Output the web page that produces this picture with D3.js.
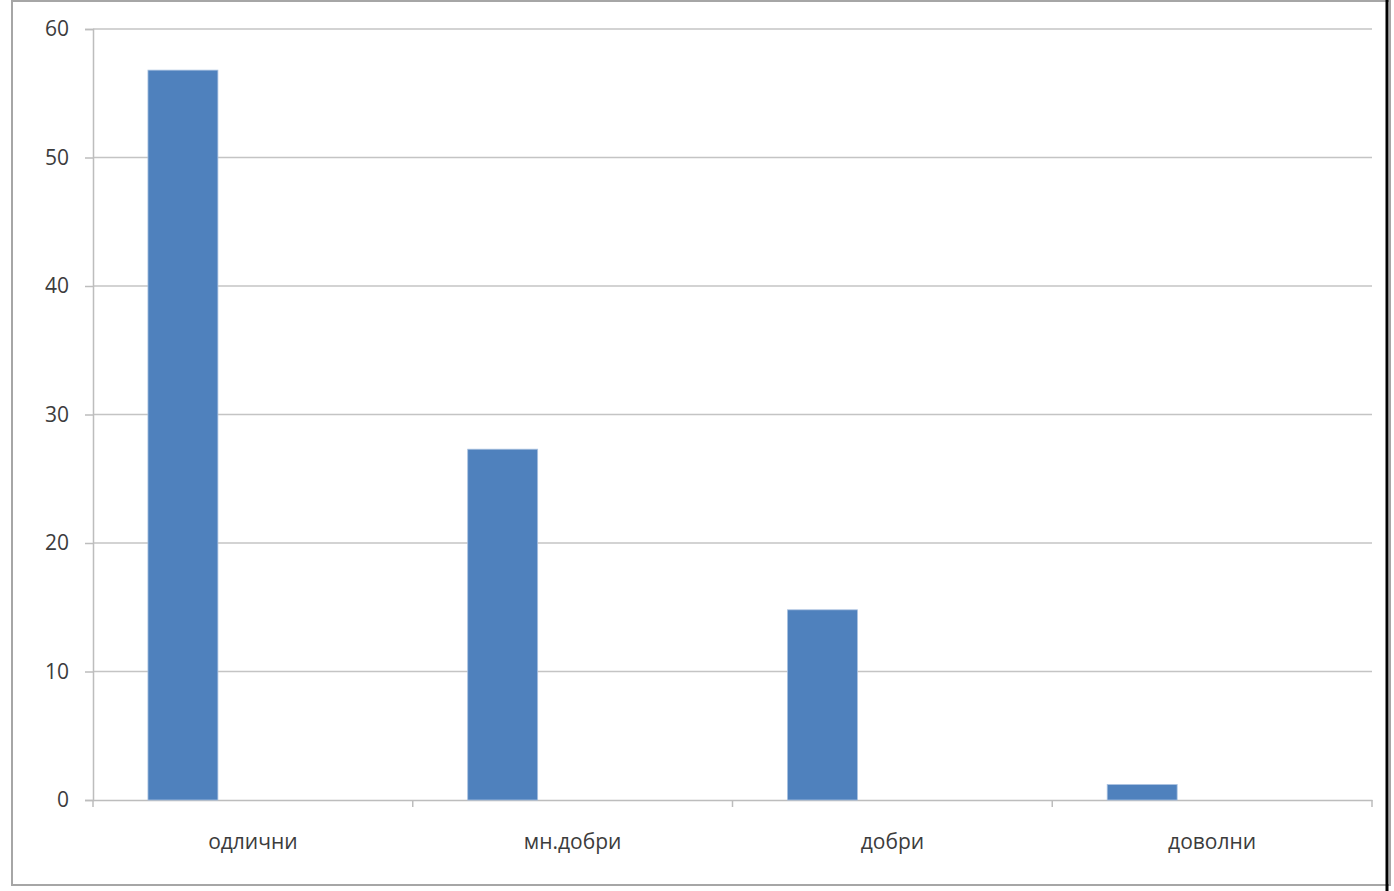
<!DOCTYPE html>
<html>
<head>
<meta charset="utf-8">
<script src="https://cdn.jsdelivr.net/npm/d3@7"></script>
<style>
  body { margin: 0; background: #fff; }
  svg text { font-family: "Open Sans", "Liberation Sans", sans-serif; fill: #3c3c3c; }
</style>
</head>
<body>
<svg id="chart" width="1394" height="891"></svg>
<script>
var categories = ["одлични", "мн.добри", "добри", "доволни"];
var values = [56.8, 27.3, 14.8, 1.2];
var yTicks = [0, 10, 20, 30, 40, 50, 60];

var svg = d3.select('#chart');
var plotLeft = 93, plotRight = 1372, plotTop = 29, plotBottom = 800;

// frame
svg.append('rect')
  .attr('x', 12).attr('y', 1)
  .attr('width', 1378).attr('height', 884)
  .attr('fill', 'none')
  .attr('stroke', '#a6a6a6')
  .attr('stroke-width', 2);
svg.append('line')
  .attr('x1', 1387).attr('x2', 1387)
  .attr('y1', 0).attr('y2', 891)
  .attr('stroke', '#000')
  .attr('stroke-width', 3);

var x = d3.scaleBand().domain(categories).range([plotLeft, plotRight]);
var y = d3.scaleLinear().domain([0, 60]).range([plotBottom, plotTop]);

// gridlines
svg.append('g').selectAll('line')
  .data(yTicks.filter(function(d) { return d > 0; }))
  .enter().append('line')
  .attr('x1', plotLeft).attr('x2', plotRight)
  .attr('y1', function(d) { return y(d); })
  .attr('y2', function(d) { return y(d); })
  .attr('stroke', '#c4c4c4')
  .attr('stroke-width', 1.5);

// y axis
var yAxis = svg.append('g')
  .attr('transform', 'translate(' + plotLeft + ',0)')
  .call(d3.axisLeft(y).tickValues(yTicks).tickSize(8).tickPadding(16).tickFormat(d3.format('d')));
yAxis.selectAll('line, path').attr('stroke', '#bdbdbd').attr('stroke-width', 1.5);
yAxis.selectAll('text').style('font-size', '21px').attr('fill', '#3c3c3c');

// x axis
var xAxis = svg.append('g')
  .attr('transform', 'translate(0,' + plotBottom + ')')
  .call(d3.axisBottom(x).tickSize(0).tickPadding(34));
xAxis.select('.domain').attr('stroke', '#bdbdbd').attr('stroke-width', 1.5);
xAxis.selectAll('text').style('font-size', '21px').attr('fill', '#3c3c3c');
xAxis.selectAll('.sep')
  .data(categories.concat(['end']))
  .enter().append('line')
  .attr('class', 'sep')
  .attr('x1', function(d, i) { return plotLeft + i * x.bandwidth(); })
  .attr('x2', function(d, i) { return plotLeft + i * x.bandwidth(); })
  .attr('y1', 0).attr('y2', 7)
  .attr('stroke', '#bdbdbd')
  .attr('stroke-width', 1.5);

// bars: first of three slots in each cluster
var slot = x.bandwidth() / (3 + 110 / 70);
var gap = slot * 110 / 70 / 2;
svg.append('g').selectAll('rect')
  .data(values)
  .enter().append('rect')
  .attr('x', function(d, i) { return x(categories[i]) + gap; })
  .attr('y', function(d) { return y(d); })
  .attr('width', slot)
  .attr('height', function(d) { return plotBottom - y(d); })
  .attr('fill', '#4f81bd')
  .attr('stroke', '#a9c1e0')
  .attr('stroke-width', 0.8);
</script>
</body>
</html>
